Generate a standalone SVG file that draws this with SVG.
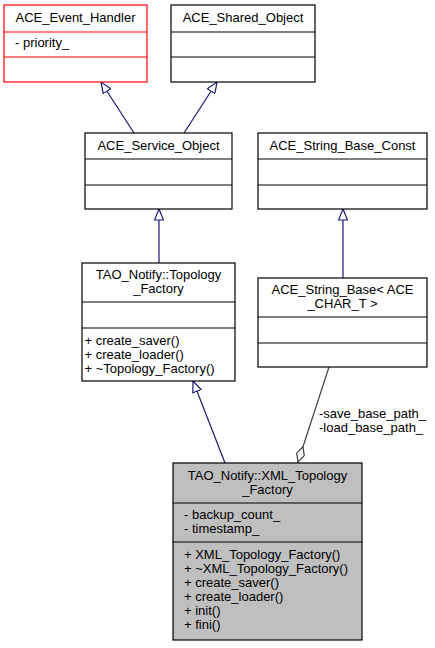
<svg xmlns="http://www.w3.org/2000/svg" width="435" height="648" viewBox="0 0 435 648">
<style>
text{font-family:"Liberation Sans",Arial,Helvetica,sans-serif;font-size:13px;fill:#000}
.c{text-anchor:middle}
.box{fill:#fff;stroke:#000;stroke-width:1.2}
.red{fill:#fff;stroke:#ff0000;stroke-width:1.2}
.cur{fill:#bfbfbf;stroke:#000;stroke-width:1.2}
.sep{stroke:#000;stroke-width:1.2}
.sepr{stroke:#ff0000;stroke-width:1.2}
.inh{fill:none;stroke:#191970;stroke-width:1.2;marker-end:url(#tri)}
.agg{fill:none;stroke:#404040;stroke-width:1.2;marker-end:url(#dia)}
</style>
<defs>
<marker id="tri" markerUnits="userSpaceOnUse" viewBox="0 0 12 10" refX="11.5" refY="5" markerWidth="12" markerHeight="10" orient="auto">
<path d="M0.5,0.5 L11.5,5 L0.5,9.5 Z" fill="#fff" stroke="#191970" stroke-width="1.2"/>
</marker>
<marker id="dia" markerUnits="userSpaceOnUse" viewBox="0 0 18 10" refX="17" refY="5" markerWidth="18" markerHeight="10" orient="auto">
<path d="M1,5 L9,1 L17,5 L9,9 Z" fill="#fff" stroke="#404040" stroke-width="1.2"/>
</marker>
</defs>
<g id="connectors">
<path class="inh" d="M134,133 L101,82"/>
<path class="inh" d="M184,133 L217,82"/>
<path class="inh" d="M159,263 L159,209"/>
<path class="inh" d="M343,278 L343,209"/>
<path class="inh" d="M225,463 L193,381"/>
<path class="agg" d="M329,367 L298,462"/>
<text x="319" y="418">-save_base_path_</text>
<text x="319" y="432">-load_base_path_</text>
</g>
<g id="ACE_Event_Handler">
<rect class="red" x="4" y="5" width="143" height="77"/>
<line class="sepr" x1="4" y1="32" x2="147" y2="32"/>
<line class="sepr" x1="4" y1="57" x2="147" y2="57"/>
<text class="c" x="75.5" y="22">ACE_Event_Handler</text>
<text x="15" y="47">- priority_</text>
</g>
<g id="ACE_Shared_Object">
<rect class="box" x="171" y="5" width="144" height="77"/>
<line class="sep" x1="171" y1="32" x2="315" y2="32"/>
<line class="sep" x1="171" y1="57" x2="315" y2="57"/>
<text class="c" x="243" y="22">ACE_Shared_Object</text>
</g>
<g id="ACE_Service_Object">
<rect class="box" x="85" y="133" width="147" height="76"/>
<line class="sep" x1="85" y1="159" x2="232" y2="159"/>
<line class="sep" x1="85" y1="185" x2="232" y2="185"/>
<text class="c" x="158.5" y="150">ACE_Service_Object</text>
</g>
<g id="ACE_String_Base_Const">
<rect class="box" x="258" y="133" width="169" height="76"/>
<line class="sep" x1="258" y1="159" x2="427" y2="159"/>
<line class="sep" x1="258" y1="185" x2="427" y2="185"/>
<text class="c" x="342.5" y="150">ACE_String_Base_Const</text>
</g>
<g id="ACE_String_Base">
<rect class="box" x="258" y="278" width="169" height="89"/>
<line class="sep" x1="258" y1="317" x2="427" y2="317"/>
<line class="sep" x1="258" y1="343" x2="427" y2="343"/>
<text class="c" x="342.5" y="294">ACE_String_Base&lt; ACE</text>
<text class="c" x="342.5" y="308">_CHAR_T &gt;</text>
</g>
<g id="TAO_Notify_Topology_Factory">
<rect class="box" x="82" y="263" width="153" height="118"/>
<line class="sep" x1="82" y1="302" x2="235" y2="302"/>
<line class="sep" x1="82" y1="328" x2="235" y2="328"/>
<text class="c" x="158.5" y="279">TAO_Notify::Topology</text>
<text class="c" x="158.5" y="293">_Factory</text>
<text x="84.5" y="345">+ create_saver()</text>
<text x="84.5" y="359">+ create_loader()</text>
<text x="84.5" y="373">+ ~Topology_Factory()</text>
</g>
<g id="TAO_Notify_XML_Topology_Factory">
<rect class="cur" x="173" y="463" width="189" height="177"/>
<line class="sep" x1="173" y1="503" x2="362" y2="503"/>
<line class="sep" x1="173" y1="542" x2="362" y2="542"/>
<text class="c" x="267.5" y="480">TAO_Notify::XML_Topology</text>
<text class="c" x="267.5" y="494">_Factory</text>
<text x="184" y="519">- backup_count_</text>
<text x="184" y="533">- timestamp_</text>
<text x="184" y="559">+ XML_Topology_Factory()</text>
<text x="184" y="573">+ ~XML_Topology_Factory()</text>
<text x="184" y="587">+ create_saver()</text>
<text x="184" y="601">+ create_loader()</text>
<text x="184" y="615">+ init()</text>
<text x="184" y="629">+ fini()</text>
</g>
</svg>
